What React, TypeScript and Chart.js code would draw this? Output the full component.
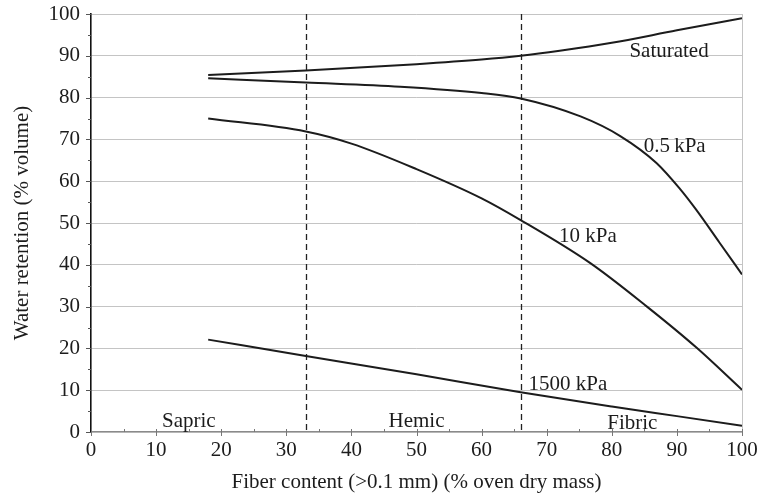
import React, { useEffect, useRef } from "react";
import { Chart, registerables } from "chart.js";

Chart.register(...registerables);

// Fiber content (% oven dry mass) sample positions and water retention (% volume)
const satX = [18, 33, 50, 60, 66, 72, 80, 90, 100];
const satY = [85.4, 86.5, 88.0, 89.1, 90.0, 91.2, 93.1, 96.1, 99.0];

const kpa05X = [18, 33, 47.5, 60, 66, 75.2, 81.3, 86.9, 90.5, 92.9, 96.5, 100];
const kpa05Y = [84.6, 83.6, 82.6, 81.1, 79.8, 75.5, 70.8, 64.3, 58.1, 53.3, 45.4, 37.7];

const kpa10X = [18, 33, 40, 50, 60, 66, 76.7, 85.4, 93, 100];
const kpa10Y = [75.0, 71.9, 69.0, 62.9, 55.9, 50.7, 40.4, 30.0, 20.2, 10.1];

const kpa1500X = [18, 33, 50, 66, 80, 90, 100];
const kpa1500Y = [22.1, 18.2, 13.8, 9.5, 6.1, 3.8, 1.5];

// Class boundaries between sapric / hemic / fibric peat
const boundaries = [33, 66];

// Curve and class labels: text, x, y (data units, left/baseline anchored)
const labelText = ["Saturated", "0.5\u2009kPa", "10 kPa", "1500 kPa", "Sapric", "Hemic", "Fibric"];
const labelX = [82.7, 84.9, 71.9, 67.2, 10.9, 45.7, 79.3];
const labelY = [89.7, 67.1, 45.4, 10.1, 1.1, 1.1, 0.7];

const FONT = "'Liberation Serif', 'DejaVu Serif', serif";
const INK = "#1c1c1c";
const FS = 21;

const toPoints = (xs: number[], ys: number[]) => xs.map((x, i) => ({ x, y: ys[i] }));

const decorations = {
  id: "decorations",
  beforeDatasetsDraw(chart: any) {
    const { ctx, chartArea, scales } = chart;
    const xs = scales.x;
    ctx.save();
    // right frame edge
    ctx.strokeStyle = "#c4c4c4";
    ctx.lineWidth = 1;
    ctx.beginPath();
    ctx.moveTo(chartArea.right + 0.5, chartArea.top);
    ctx.lineTo(chartArea.right + 0.5, chartArea.bottom);
    ctx.stroke();
    // dashed class boundaries
    ctx.strokeStyle = "#222";
    ctx.lineWidth = 1.3;
    ctx.setLineDash([6, 4]);
    boundaries.forEach((b) => {
      const px = Math.round(xs.getPixelForValue(b)) + 0.5;
      ctx.beginPath();
      ctx.moveTo(px, chartArea.top);
      ctx.lineTo(px, chartArea.bottom);
      ctx.stroke();
    });
    ctx.setLineDash([]);
    ctx.restore();
  },
  afterDatasetsDraw(chart: any) {
    const { ctx, chartArea, scales } = chart;
    const xs = scales.x;
    const ys = scales.y;
    ctx.save();
    // y-axis tick marks (major every 10, minor every 5)
    ctx.strokeStyle = "#555";
    ctx.lineWidth = 1;
    for (let v = 0; v <= 100; v += 5) {
      const py = Math.round(ys.getPixelForValue(v)) + 0.5;
      const len = v % 10 === 0 ? 5 : 3;
      ctx.beginPath();
      ctx.moveTo(chartArea.left - len, py);
      ctx.lineTo(chartArea.left, py);
      ctx.stroke();
    }
    // x-axis tick marks
    ctx.strokeStyle = "#777";
    for (let v = 0; v <= 100; v += 5) {
      const px = Math.round(xs.getPixelForValue(v)) + 0.5;
      ctx.beginPath();
      if (v % 10 === 0) {
        ctx.moveTo(px, chartArea.bottom - 3);
        ctx.lineTo(px, chartArea.bottom + 4);
      } else {
        ctx.moveTo(px, chartArea.bottom - 3);
        ctx.lineTo(px, chartArea.bottom);
      }
      ctx.stroke();
    }
    // labels
    ctx.fillStyle = INK;
    ctx.font = `${FS}px ${FONT}`;
    ctx.textAlign = "left";
    ctx.textBaseline = "alphabetic";
    labelText.forEach((t, i) => {
      ctx.fillText(t, xs.getPixelForValue(labelX[i]), ys.getPixelForValue(labelY[i]));
    });
    ctx.restore();
  },
};

export default function App() {
  const ref = useRef<HTMLCanvasElement | null>(null);

  useEffect(() => {
    document.body.style.margin = "0";
    const canvas = ref.current;
    if (!canvas) return;
    const line = (xs: number[], ys: number[]) => ({
      data: toPoints(xs, ys),
      borderColor: INK,
      borderWidth: 2,
      pointRadius: 0,
      fill: false,
      cubicInterpolationMode: "monotone" as const,
    });
    const chart = new Chart(canvas, {
      type: "line",
      data: {
        datasets: [
          line(satX, satY),
          line(kpa05X, kpa05Y),
          line(kpa10X, kpa10Y),
          line(kpa1500X, kpa1500Y),
        ],
      },
      options: {
        animation: false,
        responsive: false,
        devicePixelRatio: 1,
        layout: { padding: { top: 14, right: 17, left: 0, bottom: 0 } },
        plugins: { legend: { display: false }, tooltip: { enabled: false } },
        scales: {
          x: {
            type: "linear",
            min: 0,
            max: 100,
            ticks: { stepSize: 10, color: INK, font: { family: FONT, size: FS }, padding: 6, maxRotation: 0 },
            grid: { display: false, drawTicks: false },
            border: { color: "#8a8a8a", width: 1.3 },
            title: {
              display: true,
              text: "Fiber content (>0.1 mm) (% oven dry mass)",
              color: INK,
              font: { family: FONT, size: FS },
              padding: { top: 0, bottom: 0 },
            },
            afterFit: (s: any) => {
              s.height = 63;
              s.paddingLeft = 0;
              s.paddingRight = 0;
            },
          },
          y: {
            type: "linear",
            min: 0,
            max: 100,
            ticks: { stepSize: 10, color: INK, font: { family: FONT, size: FS }, padding: 11 },
            grid: { color: "#c4c4c4", lineWidth: 1, drawTicks: false },
            border: { color: "#111", width: 1.6 },
            title: {
              display: true,
              text: "Water retention (% volume)",
              color: INK,
              font: { family: FONT, size: FS },
              padding: { top: 10, bottom: 0 },
            },
            afterFit: (s: any) => {
              s.width = 91;
              s.paddingTop = 0;
              s.paddingBottom = 0;
            },
          },
        },
      },
      plugins: [decorations],
    });
    return () => chart.destroy();
  }, []);

  return <canvas ref={ref} width={759} height={495} style={{ display: "block" }} />;
}
